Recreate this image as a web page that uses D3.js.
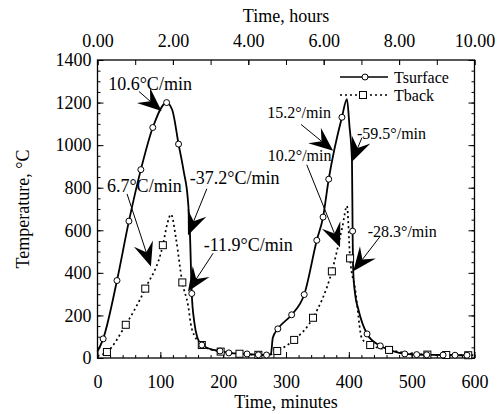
<!DOCTYPE html>
<html><head><meta charset="utf-8">
<script src="https://cdn.jsdelivr.net/npm/d3@7"></script>
<style>
body{margin:0;background:#fff}
svg{display:block}
text{font-family:"Liberation Serif","Times New Roman",serif;fill:#000}
</style>
</head><body>
<svg id="c" width="498" height="414"></svg>
<script>
// ---- data ----
const surfaceTime = [0, 9, 31, 50, 69, 88, 110, 119, 129, 137, 144, 147, 150, 154, 159, 166, 180, 195, 209, 238, 256, 269, 276, 279, 287, 309, 329, 349, 359, 368, 389, 397, 401, 405, 406, 407, 410, 415, 429, 450, 470, 489, 508, 524, 550, 569, 588, 598];
const surfaceTemp = [30, 90, 364, 643, 885, 1083, 1200, 1165, 1005, 880, 738, 596, 303, 170, 95, 61, 42, 33, 24, 19, 15, 14, 18, 95, 137, 203, 298, 553, 662, 840, 1131, 1216, 1090, 927, 596, 407, 300, 230, 113, 57, 32, 19, 16, 15, 14, 13, 13, 13];
const surfaceMarked = [0, 1, 1, 1, 1, 1, 1, 0, 1, 0, 0, 0, 1, 0, 0, 1, 0, 1, 1, 1, 1, 1, 0, 0, 1, 1, 1, 1, 1, 1, 1, 0, 0, 0, 1, 0, 0, 0, 1, 1, 0, 1, 1, 1, 1, 1, 1, 0];

const backTime = [0, 15, 45, 76, 104, 111, 117, 125, 135, 144, 150, 166, 180, 196, 226, 256, 275, 286, 313, 343, 373, 390, 397, 402, 410, 421, 434, 464, 495, 525, 555, 590];
const backTemp = [10, 28, 156, 326, 530, 630, 675, 560, 355, 250, 137, 61, 40, 30, 20, 15, 16, 33, 85, 189, 407, 620, 714, 468, 326, 90, 61, 38, 22, 16, 14, 13];
const backMarked = [0, 1, 1, 1, 1, 0, 0, 0, 1, 0, 0, 1, 0, 1, 1, 1, 0, 1, 1, 1, 1, 0, 0, 1, 0, 0, 1, 1, 0, 1, 1, 1];

const seriesNames = ["Tsurface", "Tback"];
const minuteTicks = [0, 100, 200, 300, 400, 500, 600];
const hourTicks = [0, 2, 4, 6, 8, 10];
const tempTicks = [0, 200, 400, 600, 800, 1000, 1200, 1400];
const rateLabels = ["10.6°C/min", "6.7°C/min", "-37.2°C/min", "-11.9°C/min", "15.2°/min", "10.2°/min", "-59.5°/min", "-28.3°/min"];

// ---- layout ----
const x = d3.scaleLinear().domain([0, 600]).range([97.5, 474.5]);
const xh = d3.scaleLinear().domain([0, 10]).range([97.5, 474.5]);
const y = d3.scaleLinear().domain([0, 1400]).range([358, 60]);

// annotation placement in data coordinates: [textT, textTemp, fromT, fromTemp, tipT, tipTemp, fontSize]
const annLayout = [
  [17, 1258, 66, 1252, 102, 1160, 18],
  [15, 780, 47, 771, 85, 430, 18],
  [147, 818, 174, 795, 144, 577, 18],
  [169, 501, 184, 492, 144, 312, 18],
  [270, 1126, 324, 1097, 375, 974, 16],
  [271, 927, 333, 908, 386, 520, 16],
  [413, 1031, 421, 1036, 405, 922, 16],
  [430, 568, 450, 572, 407, 407, 16]
];

const svg = d3.select("#c");
const g = svg.append("g");

// axes
g.append("g").attr("transform", `translate(0,${y(0)})`)
  .call(d3.axisBottom(x).tickValues(minuteTicks).tickSizeInner(-6).tickSizeOuter(0).tickPadding(17).tickFormat(d3.format("d")));
g.append("g").attr("transform", `translate(0,${y(0)})`)
  .call(d3.axisBottom(x).tickValues(d3.range(0, 601, 20)).tickSizeInner(-3).tickSizeOuter(0).tickFormat(""));
g.append("g").attr("transform", `translate(0,${y(1400)})`)
  .call(d3.axisTop(xh).tickValues(hourTicks).tickSizeInner(-5).tickSizeOuter(0).tickPadding(13).tickFormat(d3.format(".2f")));
g.append("g").attr("transform", `translate(0,${y(1400)})`)
  .call(d3.axisTop(xh).tickValues(d3.range(0, 10.01, 1)).tickSizeInner(-5).tickSizeOuter(0).tickFormat(""));
g.append("g").attr("transform", `translate(${x(0)},0)`)
  .call(d3.axisLeft(y).tickValues(tempTicks).tickSizeInner(-6).tickSizeOuter(0).tickPadding(6).tickFormat(d3.format("d")));
g.append("g").attr("transform", `translate(${x(0)},0)`)
  .call(d3.axisLeft(y).tickValues(d3.range(0, 1401, 50)).tickSizeInner(-3).tickSizeOuter(0).tickFormat(""));
g.append("g").attr("transform", `translate(${x(600)},0)`)
  .call(d3.axisRight(y).tickValues(tempTicks).tickSizeInner(-6).tickSizeOuter(0).tickFormat(""));
g.append("g").attr("transform", `translate(${x(600)},0)`)
  .call(d3.axisRight(y).tickValues(d3.range(0, 1401, 50)).tickSizeInner(-3).tickSizeOuter(0).tickFormat(""));

g.selectAll(".domain").remove();
g.selectAll(".tick line").attr("stroke", "#000").attr("stroke-width", 1);
g.selectAll(".tick text").attr("font-size", 18).attr("font-family", "Liberation Serif, serif");

// frame
g.append("rect").attr("x", x(0)).attr("y", y(1400)).attr("width", x(600) - x(0)).attr("height", y(0) - y(1400))
  .attr("fill", "none").attr("stroke", "#000").attr("stroke-width", 1.3);

// titles
g.append("text").attr("x", (x(0) + x(600)) / 2).attr("y", 22).attr("text-anchor", "middle").attr("font-size", 18).text("Time, hours");
g.append("text").attr("x", (x(0) + x(600)) / 2).attr("y", 408).attr("text-anchor", "middle").attr("font-size", 18).text("Time, minutes");
g.append("text").attr("transform", `translate(29,${(y(0) + y(1400)) / 2}) rotate(-90)`).attr("text-anchor", "middle").attr("font-size", 18).text("Temperature, °C");

// lines
const line = d3.line().x(d => x(d[0])).y(d => y(d[1])).curve(d3.curveMonotoneX);
const surf = surfaceTime.map((t, i) => [t, surfaceTemp[i], surfaceMarked[i]]);
const back = backTime.map((t, i) => [t, backTemp[i], backMarked[i]]);

g.append("path").datum(back).attr("d", line).attr("fill", "none").attr("stroke", "#000")
  .attr("stroke-width", 1.7).attr("stroke-dasharray", "2,3");
g.append("path").datum(surf).attr("d", line).attr("fill", "none").attr("stroke", "#000").attr("stroke-width", 1.8);

g.selectAll(".sq").data(back.filter(d => d[2])).join("rect")
  .attr("x", d => x(d[0]) - 3.5).attr("y", d => y(d[1]) - 3.5).attr("width", 7).attr("height", 7)
  .attr("fill", "#fff").attr("stroke", "#000").attr("stroke-width", 1);
g.selectAll(".ci").data(surf.filter(d => d[2])).join("circle")
  .attr("cx", d => x(d[0])).attr("cy", d => y(d[1])).attr("r", 3)
  .attr("fill", "#fff").attr("stroke", "#000").attr("stroke-width", 1);

// legend
const lg = g.append("g");
const lx0 = 340, lx1 = 388;
[[77, false], [95, true]].forEach(([ly, dotted], i) => {
  lg.append("line").attr("x1", lx0).attr("x2", lx1).attr("y1", ly).attr("y2", ly)
    .attr("stroke", "#000").attr("stroke-width", 1.6).attr("stroke-dasharray", dotted ? "2,3" : null);
  if (dotted) lg.append("rect").attr("x", 363 - 3.5).attr("y", ly - 3.5).attr("width", 7).attr("height", 7).attr("fill", "#fff").attr("stroke", "#000");
  else lg.append("circle").attr("cx", 365).attr("cy", ly).attr("r", 3).attr("fill", "#fff").attr("stroke", "#000");
  lg.append("text").attr("x", 394).attr("y", ly + 6).attr("font-size", 16).text(seriesNames[i]);
});

// annotations with arrows
function arrow(x1, y1, x2, y2) {
  const a = Math.atan2(y2 - y1, x2 - x1);
  const L = 24, Wd = 10, N = 15;
  const ca = Math.cos(a), sa = Math.sin(a);
  const pt = (dx, dy) => [x2 + dx * ca - dy * sa, y2 + dx * sa + dy * ca];
  g.append("line").attr("x1", x1).attr("y1", y1).attr("x2", pt(-N, 0)[0]).attr("y2", pt(-N, 0)[1])
    .attr("stroke", "#000").attr("stroke-width", 1);
  const p = [pt(0, 0), pt(-L, -Wd), pt(-N, 0), pt(-L, Wd)];
  g.append("path").attr("d", "M" + p.map(q => q.join(",")).join("L") + "Z").attr("fill", "#000");
}
annLayout.forEach((a, i) => {
  g.append("text").attr("x", x(a[0])).attr("y", y(a[1])).attr("font-size", a[6]).text(rateLabels[i]);
  arrow(x(a[2]), y(a[3]), x(a[4]), y(a[5]));
});
</script>
</body></html>
